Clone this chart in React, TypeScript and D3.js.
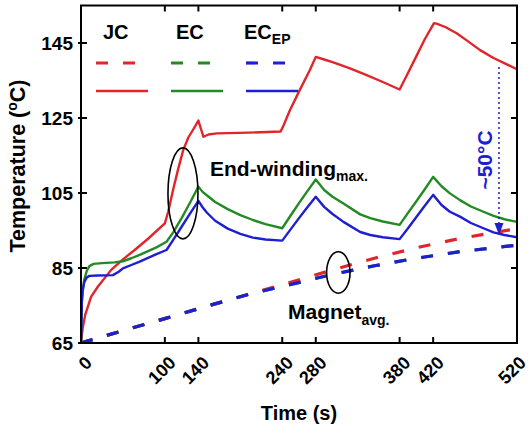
import React from "react";
import * as d3 from "d3";

const timeTicks = [0, 100, 140, 240, 280, 380, 420, 520];
const tempTicks = [65, 85, 105, 125, 145];

// End-winding max temperature (solid)
const jcWinding: [number, number][] = [
  [0, 65], [2, 69], [5, 72.5], [12, 77.3], [20, 80], [36, 84.5], [50, 87.3], [64, 89.8], [80, 92.8], [100, 96.9],
  [104, 100], [110, 106], [116, 111.5], [122, 116.5], [128, 119.8], [134, 122], [140, 124.3], [146, 120], [152, 120.6],
  [162, 120.9], [200, 121.1], [238, 121.4], [241, 122.7], [249, 127], [261, 132.5], [273, 137.8], [280, 141.3],
  [290, 140.6], [300, 139.9], [320, 138.3], [340, 136.5], [360, 134.6], [380, 132.6], [390, 137], [400, 141.5],
  [410, 146], [421, 150.3], [425, 150.1], [435, 149.2], [448, 147.6], [460, 145.7], [476, 143.1], [492, 141],
  [506, 139.5], [520, 138],
];
const ecWinding: [number, number][] = [
  [0, 65], [1, 76], [2, 79], [4, 82], [7, 84.3], [10, 85.5], [15, 86.1], [25, 86.3], [40, 86.5], [50, 86.8],
  [60, 87.6], [70, 88.5], [80, 89.5], [90, 90.5], [102, 92], [110, 94.5], [120, 98.3], [130, 102.4], [140, 106.7],
  [145, 105.3], [150, 104.4], [160, 102.6], [175, 100.7], [190, 99.1], [205, 97.8], [220, 96.7], [240, 95.6],
  [250, 99], [260, 102.3], [270, 105.5], [280, 108.6], [290, 105.8], [300, 104], [313, 102.2], [333, 99.3],
  [345, 98.3], [360, 97.4], [380, 96.5], [390, 99.7], [400, 102.8], [410, 106], [420, 109.3], [430, 106.8],
  [440, 104.9], [452, 103.1], [465, 101.4], [480, 100], [492, 98.9], [505, 98], [520, 97.3],
];
const ecEpWinding: [number, number][] = [
  [0, 65], [1, 76], [2, 79], [4, 81.3], [7, 82.5], [10, 82.9], [20, 83], [38, 83.1], [45, 84], [50, 84.9],
  [60, 85.8], [70, 86.7], [80, 87.7], [90, 88.7], [102, 89.8], [110, 92.5], [120, 96], [130, 99.5], [140, 102.9],
  [145, 101.2], [150, 99.8], [160, 97.6], [175, 95.5], [190, 94.1], [205, 93.1], [220, 92.6], [240, 92.3],
  [250, 95.3], [260, 98.3], [270, 101.2], [280, 104], [290, 101.3], [300, 99.4], [313, 97.3], [333, 94.6],
  [345, 93.8], [360, 93.2], [380, 92.7], [390, 95.6], [400, 98.6], [410, 101.6], [420, 104.5], [430, 101.8],
  [440, 100], [452, 98.7], [465, 97], [480, 95.6], [492, 94.5], [505, 93.8], [520, 93.2],
];

// Magnet average temperature (dashed)
const jcMagnet: [number, number][] = [
  [0, 65], [50, 68.3], [100, 71.5], [150, 74.8], [200, 78], [250, 81.2], [300, 84.5], [350, 87.6], [400, 90.4],
  [450, 92.8], [520, 95.5],
];
const ecMagnet: [number, number][] = [
  [0, 65], [50, 68.3], [100, 71.5], [150, 74.8], [200, 78], [250, 80.6], [300, 83.3], [350, 85.6], [400, 87.6],
  [450, 89.3], [520, 91.1],
];
const ecEpMagnet: [number, number][] = [
  [0, 65], [50, 68.3], [100, 71.5], [150, 74.8], [200, 78], [250, 80.6], [300, 83.3], [350, 85.6], [400, 87.6],
  [450, 89.3], [520, 91.1],
];

const legendNames = ["JC", "EC", "EC"];
const legendSubs = ["", "", "EP"];

const RED = "#e2252b";
const GREEN = "#248a24";
const BLUE = "#1e1ed2";
const FONT = "'Liberation Sans', Arial, Helvetica, sans-serif";

export default function App() {
  const W = 530, H = 429;
  const x = d3.scaleLinear().domain([0, 520]).range([81, 517]);
  const y = d3.scaleLinear().domain([65, 155]).range([343, 5.5]);
  const line = d3.line<[number, number]>().x((d) => x(d[0])).y((d) => y(d[1])).curve(d3.curveLinear);

  const colors = [RED, GREEN, BLUE];
  const windings = [jcWinding, ecWinding, ecEpWinding];
  const magnets = [jcMagnet, ecMagnet, ecEpMagnet];
  const legendX = [96, 171, 246];
  const legendTextX = [103, 176, 244];

  const x0 = x(0), x1 = x(520), y0 = y(65), y1 = y(155);

  const arrowT = 498.5;
  const arrowTop = 138.6;
  const arrowBottom = 93.8;

  return (
    <svg width={W} height={H} style={{ position: "absolute", left: 0, top: 0, background: "#fff" }} fontFamily={FONT}>
      <defs>
        <clipPath id="plot">
          <rect x={x0} y={y1} width={x1 - x0} height={y0 - y1} />
        </clipPath>
      </defs>

      <g clipPath="url(#plot)" fill="none">
        {magnets.map((m, i) => (
          <path key={"m" + i} d={line(m) || ""} stroke={colors[i]} strokeWidth={3.2} strokeDasharray="12 15" />
        ))}
        {windings.map((w, i) => (
          <path key={"w" + i} d={line(w) || ""} stroke={colors[i]} strokeWidth={2.4} strokeLinejoin="round" />
        ))}
      </g>

      <rect x={x0} y={y1} width={x1 - x0} height={y0 - y1} fill="none" stroke="#000" strokeWidth={2} />

      {timeTicks.map((t) => (
        <g key={"xt" + t}>
          <line x1={x(t)} x2={x(t)} y1={y0} y2={y0 - 6} stroke="#000" strokeWidth={2} />
          <line x1={x(t)} x2={x(t)} y1={y1} y2={y1 + 6} stroke="#000" strokeWidth={2} />
          <text
            transform={`translate(${Math.min(x(t) + 12, 527)},${y0 + 21}) rotate(-45)`}
            textAnchor="end"
            fontSize={18}
            fontWeight="bold"
          >
            {t}
          </text>
        </g>
      ))}

      {tempTicks.map((v) => (
        <g key={"yt" + v}>
          <line x1={x0 - 3} x2={x0 + 6} y1={y(v)} y2={y(v)} stroke="#000" strokeWidth={2} />
          <line x1={x1} x2={x1 - 6} y1={y(v)} y2={y(v)} stroke="#000" strokeWidth={2} />
          <text x={x0 - 8} y={y(v)} dy="0.36em" textAnchor="end" fontSize={19} fontWeight="bold">
            {v}
          </text>
        </g>
      ))}

      <text x={299} y={420} textAnchor="middle" fontSize={20} fontWeight="bold">
        Time (s)
      </text>
      <text transform={`translate(25,166) rotate(-90)`} textAnchor="middle" fontSize={21.5} fontWeight="bold">
        Temperature (<tspan fontSize={14} dy={-8}>o</tspan><tspan dy={8}>C)</tspan>
      </text>

      {legendNames.map((n, i) => (
        <g key={"lg" + i}>
          <text x={legendTextX[i]} y={39} fontSize={20} fontWeight="bold">
            {n}
            {legendSubs[i] ? (
              <tspan fontSize={14} dy={5}>
                {legendSubs[i]}
              </tspan>
            ) : null}
          </text>
          <line x1={legendX[i]} x2={legendX[i] + 52} y1={63} y2={63} stroke={colors[i]} strokeWidth={3.2} strokeDasharray="12 15" />
          <line x1={legendX[i]} x2={legendX[i] + 52} y1={91} y2={91} stroke={colors[i]} strokeWidth={2.6} />
        </g>
      ))}

      <ellipse cx={x(121.6)} cy={y(104.9)} rx={15} ry={45.5} fill="none" stroke="#000" strokeWidth={1.6} />
      <ellipse cx={x(306.9)} cy={y(83.8)} rx={11.7} ry={20.8} fill="none" stroke="#000" strokeWidth={1.6} />
      <text x={210} y={176} fontSize={21} fontWeight="bold">
        End-winding<tspan fontSize={14} dy={5}>max.</tspan>
      </text>
      <text x={288} y={319} fontSize={21} fontWeight="bold">
        Magnet<tspan fontSize={14} dy={6}>avg.</tspan>
      </text>

      <line
        x1={x(arrowT)}
        x2={x(arrowT)}
        y1={y(arrowTop)}
        y2={y(arrowBottom) - 10}
        stroke={BLUE}
        strokeWidth={1.5}
        strokeDasharray="2 3"
      />
      <path
        d={`M${x(arrowT) - 4.5},${y(arrowBottom) - 12} L${x(arrowT) + 4.5},${y(arrowBottom) - 12} L${x(arrowT)},${y(arrowBottom)} Z`}
        fill={BLUE}
      />
      <text transform={`translate(492,160) rotate(-90)`} textAnchor="middle" fontSize={21} fontWeight="bold" fill={BLUE}>
        ~50°C
      </text>
    </svg>
  );
}
